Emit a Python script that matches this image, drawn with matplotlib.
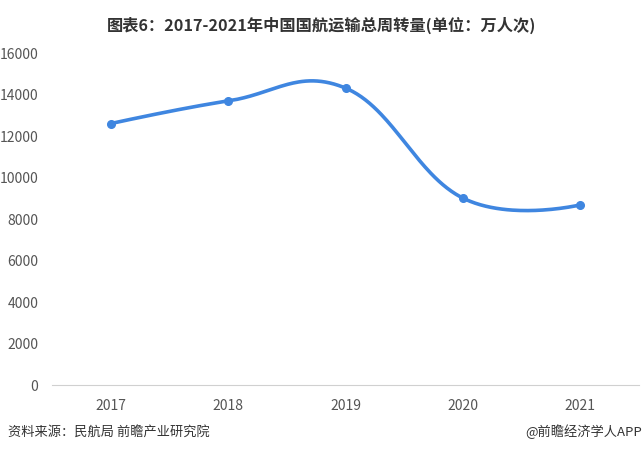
import numpy as np
import matplotlib
matplotlib.use("Agg")
import matplotlib.pyplot as plt

plt.rcParams['font.family'] = ['Noto Sans CJK SC', 'DejaVu Sans']

years = ['2017', '2018', '2019', '2020', '2021']
values = [12600, 13690, 14310, 9010, 8680]


def smooth_line(x, y, smooth=0.4, n=60):
    # cardinal-style bezier: control points from the neighbours
    p = np.column_stack([np.asarray(x, float), np.asarray(y, float)])
    cnt = len(p)
    cp_in = p.copy()
    cp_out = p.copy()
    for i in range(1, cnt - 1):
        v = (p[i + 1] - p[i - 1]) * smooth * 0.5
        cp_in[i] = p[i] - v
        cp_out[i] = p[i] + v
    t = np.linspace(0, 1, n)[:, None]
    pts = []
    for i in range(cnt - 1):
        a, b, c, d = p[i], cp_out[i], cp_in[i + 1], p[i + 1]
        seg = (1 - t) ** 3 * a + 3 * (1 - t) ** 2 * t * b + 3 * (1 - t) * t ** 2 * c + t ** 3 * d
        pts.append(seg)
    pts = np.vstack(pts)
    return pts[:, 0], pts[:, 1]


fig = plt.figure(figsize=(6.44, 4.53), dpi=100)
ax = fig.add_axes([0.081, 0.150, 0.911, 0.733])

xpos = np.arange(len(years))
color = '#3f86e0'
lx, ly = smooth_line(xpos, values)
ax.plot(lx, ly, color=color, lw=2.6, solid_capstyle='round')
ax.plot(xpos, values, 'o', color=color, ms=5.5)

ax.set_xlim(-0.5, len(years) - 0.5)
ax.set_ylim(0, 16000)
ax.set_yticks(np.arange(0, 16001, 2000))
ax.set_xticks(xpos)
ax.set_xticklabels(years)

for s in ['top', 'right', 'left']:
    ax.spines[s].set_visible(False)
ax.spines['bottom'].set_color('#d0d0d0')
ax.tick_params(axis='both', length=0, labelsize=10, colors='#555555')
ax.tick_params(axis='x', pad=10)
ax.tick_params(axis='y', pad=10)

fig.text(0.5, 0.945, '图表6：2017-2021年中国国航运输总周转量(单位：万人次)',
         ha='center', va='center', fontsize=11.7, fontweight='bold',
         color='#333333')
fig.text(0.012, 0.046, '资料来源：民航局 前瞻产业研究院', ha='left',
         va='center', fontsize=9.5, color='#333333')
fig.text(0.997, 0.046, '@前瞻经济学人APP', ha='right', va='center',
         fontsize=9.5, color='#333333')

fig.savefig('out.png', dpi=100)
